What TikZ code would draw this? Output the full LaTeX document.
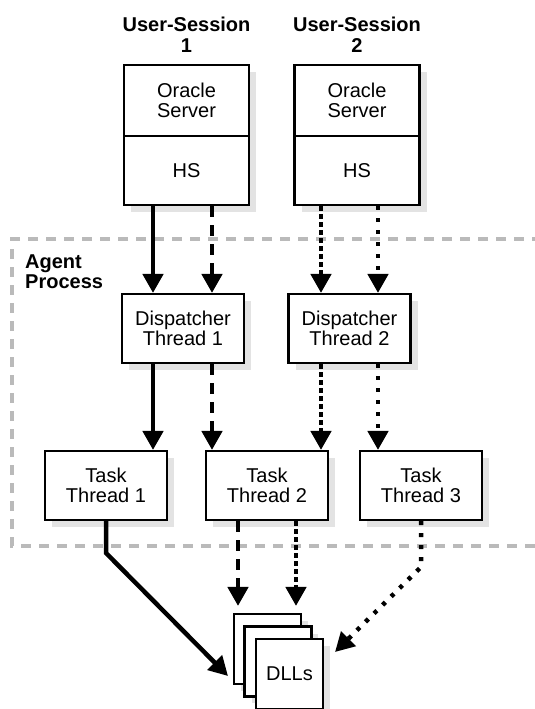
\documentclass[tikz,border=0pt]{standalone}
\usepackage{fontspec}
\setmainfont{Liberation Sans}
\usetikzlibrary{arrows.meta,shadows,calc}
\begin{document}
\begin{tikzpicture}[x=1pt,y=-1pt,
  txt/.style={font=\fontsize{20}{20.5}\selectfont},
  box/.style={draw, line width=2.5pt, fill=white, inner sep=0pt, align=center, txt,
    drop shadow={shadow xshift=7pt, shadow yshift=-7pt, fill=black!11, opacity=1}},
  srvbox/.style={box, minimum width=125pt},
  thrbox/.style={box, minimum width=122pt, minimum height=68.6pt},
  dllbox/.style={box, minimum width=66.6pt, minimum height=69.6pt},
  title/.style={align=center, font=\fontsize{20}{20.5}\selectfont\bfseries, inner sep=0pt},
  tip/.style={-{Triangle[width=20pt,length=19pt]}},
  solidln/.style={line width=4.5pt, tip},
  dashln/.style={line width=4.5pt, dash pattern=on 11pt off 8pt, tip},
  denseln/.style={line width=4.5pt, dash pattern=on 5pt off 3pt, tip},
  dotln/.style={line width=4.5pt, dash pattern=on 4pt off 8pt, tip},
  agent/.style={draw=black!27, line width=4pt, dash pattern=on 10pt off 8pt}
]
\useasboundingbox (0,0) rectangle (535,709);

% agent process region
\draw[agent] (560,239) -- (12,239) -- (12,546) -- (560,546);
\node[title, align=left, anchor=north west] (agentlbl) at (25,254.5) {Agent\\Process};

% column coordinates
\coordinate (cA) at (153,0);
\coordinate (cB) at (212,0);
\coordinate (cC) at (321,0);
\coordinate (cD) at (378,0);
\coordinate (cE) at (238,0);
\coordinate (cF) at (296,0);

% user sessions
\node[title] (us1) at (186.5,35) {User-Session\\1};
\node[title] (us2) at (357,35) {User-Session\\2};

\node[srvbox, minimum height=71pt] (os1) at (186.5,100.5) {Oracle\\Server};
\node[srvbox, minimum height=69pt] (hs1) at (186.5,170.5) {HS};
\node[srvbox, minimum height=71pt] (os2) at (357,100.5) {Oracle\\Server};
\node[srvbox, minimum height=69pt] (hs2) at (357,170.5) {HS};

% dispatchers
\node[thrbox] (d1) at (183,328.5) {Dispatcher\\Thread 1};
\node[thrbox] (d2) at (349.5,328.5) {Dispatcher\\Thread 2};

% tasks
\node[thrbox] (t1) at (106,485.5) {Task\\Thread 1};
\node[thrbox] (t2) at (267,485.5) {Task\\Thread 2};
\node[thrbox] (t3) at (421,485.5) {Task\\Thread 3};

% DLL stack
\node[dllbox] (dllA) at (267.5,649) {};
\node[dllbox] (dllB) at (278,661.5) {};
\node[dllbox] (dllC) at (289.5,674) {DLLs};

% HS -> dispatchers
\draw[solidln] (hs1.south -| cA) -- (d1.north -| cA);
\draw[dashln]  (hs1.south -| cB) -- (d1.north -| cB);
\draw[denseln] (hs2.south -| cC) -- (d2.north -| cC);
\draw[dotln]   (hs2.south -| cD) -- (d2.north -| cD);

% dispatchers -> tasks
\draw[solidln] (d1.south -| cA) -- (t1.north -| cA);
\draw[dashln]  (d1.south -| cB) -- (t2.north -| cB);
\draw[denseln] (d2.south -| cC) -- (t2.north -| cC);
\draw[dotln]   (d2.south -| cD) -- (t3.north -| cD);

% tasks -> DLLs
\coordinate (k1) at (106,553);
\coordinate (e1) at (228,676);
\coordinate (k3) at (421,567);
\coordinate (e3) at (335,652);
\draw[solidln, line join=miter] (t1.south) -- (t1.south |- k1) -- (e1);
\draw[dashln, shorten >=7pt]  (t2.south -| cE) -- (dllA.north -| cE);
\draw[denseln, shorten >=7pt] (t2.south -| cF) -- (dllA.north -| cF);
\draw[dotln] (t3.south) -- (t3.south |- k3) -- (e3);
\end{tikzpicture}
\end{document}
